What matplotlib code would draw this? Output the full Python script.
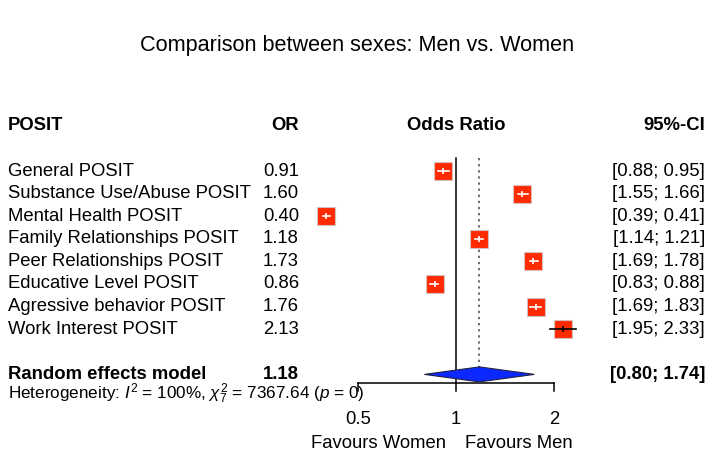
import numpy as np
import matplotlib
matplotlib.use("Agg")
import matplotlib.pyplot as plt
from matplotlib.patches import Polygon

plt.rcParams['font.family'] = ['Liberation Sans', 'DejaVu Sans']
plt.rcParams['mathtext.fontset'] = 'custom'
plt.rcParams['mathtext.rm'] = 'Liberation Sans'
plt.rcParams['mathtext.it'] = 'Liberation Sans:italic'

studies = ["General POSIT", "Substance Use/Abuse POSIT", "Mental Health POSIT",
           "Family Relationships POSIT", "Peer Relationships POSIT",
           "Educative Level POSIT", "Agressive behavior POSIT", "Work Interest POSIT"]
odds = [0.91, 1.60, 0.40, 1.18, 1.73, 0.86, 1.76, 2.13]
lower = [0.88, 1.55, 0.39, 1.14, 1.69, 0.83, 1.69, 1.95]
upper = [0.95, 1.66, 0.41, 1.21, 1.78, 0.88, 1.83, 2.33]
pooled = 1.18
pooled_ci = [0.80, 1.74]
ticks = [0.5, 1, 2]

W, H = 714, 457
fig = plt.figure(figsize=(W / 100, H / 100), dpi=100)
ax = fig.add_axes([0, 0, 1, 1])
ax.set_xscale('log', base=2)
# 1 sits at x=456 px, 98 px per doubling
ppd = 98.0
ax.set_xlim(2 ** (-456 / ppd), 2 ** ((W - 456) / ppd))
rowh = 22.6
ax.set_ylim((H - 171) / rowh, -171 / rowh)
ax.axis('off')

fs = 13.3
tr = ax.get_yaxis_transform()  # x axes-fraction, y data


def px(x):
    return x / W


fig.text(0.5, 1 - 45 / H, "Comparison between sexes: Men vs. Women",
         ha='center', va='center', fontsize=15.6)

# headers
hy = -2
ax.text(px(8), hy, "POSIT", transform=tr, ha='left', va='center', fontsize=fs, fontweight='bold')
ax.text(px(299), hy, "OR", transform=tr, ha='right', va='center', fontsize=fs, fontweight='bold')
ax.text(1, hy, "Odds Ratio", ha='center', va='center', fontsize=fs, fontweight='bold')
ax.text(px(705), hy, "95%-CI", transform=tr, ha='right', va='center', fontsize=fs, fontweight='bold')

half_box = 9 / ppd  # box half width in log2 units
for i, (name, o, lo, hi) in enumerate(zip(studies, odds, lower, upper)):
    ax.text(px(8), i, name, transform=tr, ha='left', va='center', fontsize=fs)
    ax.text(px(299), i, f"{o:.2f}", transform=tr, ha='right', va='center', fontsize=fs)
    ax.text(px(705), i, f"[{lo:.2f}; {hi:.2f}]", transform=tr, ha='right', va='center', fontsize=fs)
    ax.plot([o], [i], marker='s', ms=13, mfc='#ff2a00', mec='#d8c0c0', mew=0.8, zorder=3)
    inside = (np.log2(o / lo) < half_box) and (np.log2(hi / o) < half_box)
    c = 'white' if inside else 'black'
    ax.plot([lo, hi], [i, i], color=c, lw=1.2, zorder=4)
    ax.plot([o], [i], marker='|', ms=5, color=c, mew=1.2, zorder=4)

# pooled
ry = 9
ax.text(px(8), ry, "Random effects model", transform=tr, ha='left', va='center',
        fontsize=fs, fontweight='bold')
ax.text(px(299), ry, f"{pooled:.2f}", transform=tr, ha='right', va='center',
        fontsize=fs, fontweight='bold')
ax.text(px(705), ry, f"[{pooled_ci[0]:.2f}; {pooled_ci[1]:.2f}]", transform=tr,
        ha='right', va='center', fontsize=fs, fontweight='bold')
dh = 7.5 / rowh
diamond = Polygon([(pooled_ci[0], ry), (pooled, ry - dh), (pooled_ci[1], ry), (pooled, ry + dh)],
                  closed=True, fc='#0a28ff', ec='#222244', lw=0.8, zorder=3)
ax.add_patch(diamond)

ax.text(px(8), 9.85, r"Heterogeneity: $I^2$ = 100%, $\chi^2_7$ = 7367.64 ($p$ = 0)",
        transform=tr, ha='left', va='center', fontsize=12.3)

# reference lines
top = -0.58
axis_y = (383 - 171) / rowh
ax.plot([1, 1], [top, axis_y], color='black', lw=1.1, zorder=2)
ax.plot([pooled, pooled], [top, ry - dh], color='#444444', lw=1.1, ls=(0, (1.5, 2.5)), zorder=2)

# x axis
ax.plot([ticks[0], ticks[-1]], [axis_y, axis_y], color='black', lw=1.1)
tlen = 8 / rowh
for t in ticks:
    ax.plot([t, t], [axis_y, axis_y + tlen], color='black', lw=1.1)
    ax.text(t, 11.0, f"{t:g}", ha='center', va='center', fontsize=fs)

ax.text(2 ** (-10 / ppd), 12.04, "Favours Women", ha='right', va='center', fontsize=fs)
ax.text(2 ** (9 / ppd), 12.04, "Favours Men", ha='left', va='center', fontsize=fs)

fig.savefig("out.png", dpi=100)
